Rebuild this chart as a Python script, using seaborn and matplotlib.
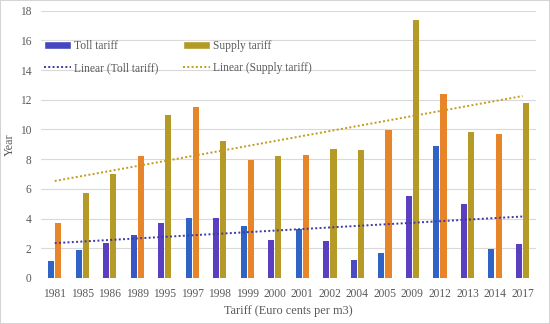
import pandas as pd
import matplotlib
matplotlib.use('Agg')
import matplotlib.pyplot as plt
from matplotlib.patches import Patch
from matplotlib.lines import Line2D
import numpy as np
import seaborn as sns

# Data
years = ['1981', '1985', '1986', '1989', '1995', '1997', '1998', '1999', '2000',
         '2001', '2002', '2004', '2005', '2009', '2012', '2013', '2014', '2017']
toll = [1.17, 1.91, 2.36, 2.9, 3.73, 4.03, 4.03, 3.49, 2.59,
        3.28, 2.47, 1.19, 1.67, 5.49, 8.9, 4.97, 1.96, 2.27]
supply = [3.71, 5.71, 7.01, 8.2, 10.95, 11.49, 9.2, 7.96, 8.2,
          8.29, 8.7, 8.61, 9.94, 17.38, 12.41, 9.82, 9.71, 11.76]

df = pd.DataFrame({
    'year': years * 2,
    'value': toll + supply,
    'series': ['Toll tariff'] * len(years) + ['Supply tariff'] * len(years),
})

# Styles
toll_col = '#4646c2'
supply_col = '#b39a24'
toll_cols = ['#2f63c6', '#2f63c6', '#5a40c0', '#3a55c4', '#5a40c0', '#2f63c6', '#5a40c0',
             '#2f63c6', '#5a40c0', '#2f63c6', '#5a40c0', '#4a4ac2', '#2f63c6', '#5a40c0',
             '#2f63c6', '#5a40c0', '#2f63c6', '#5a40c0']
supply_cols = ['#e8842a', '#b59a28', '#b59a28', '#e8842a', '#b59a28', '#e8842a', '#b59a28',
               '#e8842a', '#b59a28', '#e8842a', '#b59a28', '#b59a28', '#e8842a', '#b59a28',
               '#e8842a', '#b59a28', '#e8842a', '#b59a28']
grey = '#595959'

sns.set_style('white')
plt.rcParams['font.family'] = ['Liberation Serif', 'DejaVu Serif']

fig = plt.figure(figsize=(5.5, 3.24), dpi=100)
fig.patch.set_edgecolor('#d4d4d4')
fig.patch.set_linewidth(1.2)
ax = fig.add_axes([0.0745, 0.142, 0.9005, 0.825])

sns.barplot(data=df, x='year', y='value', hue='series',
            hue_order=['Toll tariff', 'Supply tariff'],
            palette={'Toll tariff': toll_col, 'Supply tariff': supply_col},
            width=0.52, gap=0.15, legend=False, ax=ax, zorder=3)

# Kolorera staplarna en och en
for p, c in zip(ax.patches, toll_cols + supply_cols):
    p.set_facecolor(c)
    p.set_edgecolor('none')

# Linjär trend (som Excel)
x = np.arange(len(years))
k1, m1 = np.polyfit(x, toll, 1)
k2, m2 = np.polyfit(x, supply, 1)
dots = (0, (1, 1.2))
sns.lineplot(x=x, y=k1 * x + m1, color='#3c3aa0', linestyle=dots, linewidth=1.4, ax=ax, zorder=4)
sns.lineplot(x=x, y=k2 * x + m2, color='#c29a1c', linestyle=dots, linewidth=1.4, ax=ax, zorder=4)

ax.set_ylim(0, 18)
ax.set_yticks(range(0, 19, 2))
ax.set_xlim(-0.5, len(years) - 0.5)
ax.grid(axis='y', color='#d9d9d9', linewidth=0.8, zorder=0)
ax.set_axisbelow(True)
for s in ax.spines.values():
    s.set_visible(False)
ax.tick_params(axis='both', length=0, labelsize=8.3, labelcolor=grey)
ax.tick_params(axis='y', pad=7)
ax.tick_params(axis='x', pad=7)
ax.set_xlabel('Tariff (Euro cents per m3)', fontsize=8.8, color=grey, labelpad=4)
ax.set_ylabel('Year', fontsize=8.8, color=grey, labelpad=3)

# Ordning för ncol=2 (fylls kolumnvis)
handles = [
    Patch(facecolor=toll_col, label='Toll tariff'),
    Line2D([], [], color='#3c3aa0', linestyle=dots, linewidth=1.4, label='Linear (Toll tariff)'),
    Patch(facecolor=supply_col, label='Supply tariff'),
    Line2D([], [], color='#c29a1c', linestyle=dots, linewidth=1.4, label='Linear (Supply tariff)'),
]
leg = ax.legend(handles=handles, ncol=2, loc='upper left', bbox_to_anchor=(0.006, 0.89),
                frameon=False, fontsize=8.3, handlelength=2.35, handleheight=0.7,
                columnspacing=2.1, labelspacing=0.9, handletextpad=0.27,
                borderaxespad=0, borderpad=0)
for t in leg.get_texts():
    t.set_color(grey)

fig.savefig('out.png', dpi=100, edgecolor=fig.get_edgecolor())
